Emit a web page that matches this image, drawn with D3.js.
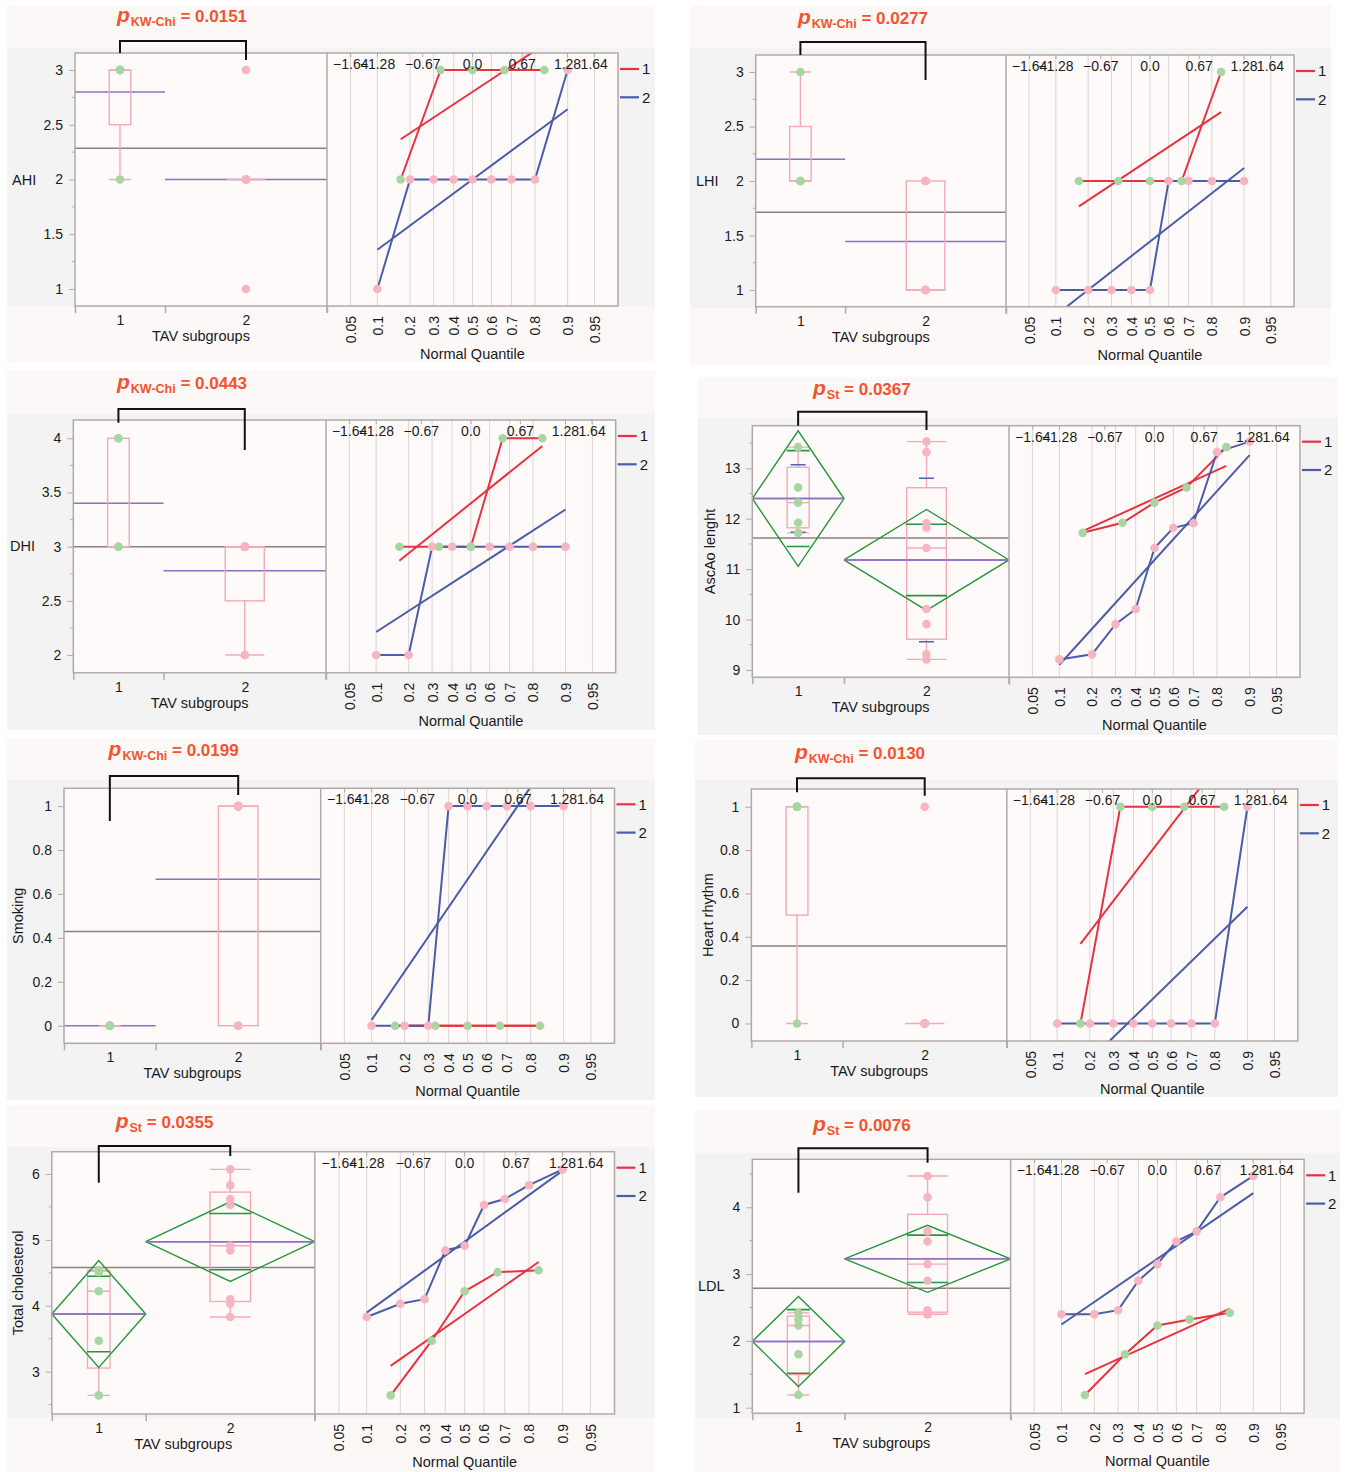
<!DOCTYPE html>
<html><head><meta charset="utf-8">
<script src="https://cdn.jsdelivr.net/npm/d3@7"></script>
<style>
body{margin:0;background:#fff}
svg{display:block}
text{font-family:"Liberation Sans",Arial,Helvetica,sans-serif;fill:#1a1a1a}
</style>
</head><body>
<svg id="chart" width="1354" height="1472"></svg>
<script>
// ---------------- DATA ----------------
const variableNames = ["AHI","LHI","DHI","AscAo lenght","Smoking","Heart rhythm","Total cholesterol","LDL"];
const testLabels = ["KW-Chi","KW-Chi","KW-Chi","St","KW-Chi","KW-Chi","St","St"];
const pValues = ["0.0151","0.0277","0.0443","0.0367","0.0199","0.0130","0.0355","0.0076"];
const categories = ["1","2"];
const legendLabels = ["1","2"];
const group1Values = [
  [2,3,3,3,3],
  [2,2,2,2,3],
  [3,3,3,4,4],
  [11.72,11.92,12.32,12.62,13.42],
  [0,0,0,0,0],
  [0,1,1,1,1],
  [2.64,3.47,4.22,4.51,4.54],
  [1.19,1.80,2.23,2.32,2.42]
];
const group2Values = [
  [1,2,2,2,2,2,2,2,3],
  [1,1,1,1,1,2,2,2,2],
  [2,2,3,3,3,3,3,3,3],
  [9.21,9.31,9.91,10.21,11.42,11.82,11.91,13.32,13.53],
  [0,0,0,1,1,1,1,1,1],
  [0,0,0,0,0,0,0,0,1],
  [3.83,4.03,4.10,4.84,4.91,5.53,5.62,5.83,6.07],
  [2.40,2.40,2.46,2.90,3.15,3.49,3.64,4.15,4.47]
];
const yDomains = [[0.845,3.155],[0.847,3.156],[1.837,4.169],[8.855,13.845],[-0.080,1.081],[-0.081,1.082],[2.358,6.338],[0.916,4.719]];
const yTickValues = [
  [1,1.5,2,2.5,3],[1,1.5,2,2.5,3],[2,2.5,3,3.5,4],[9,10,11,12,13],
  [0,0.2,0.4,0.6,0.8,1],[0,0.2,0.4,0.6,0.8,1],[3,4,5,6],[1,2,3,4]
];
const yMinorSteps = [0.25,0.25,0.25,0.5,null,null,0.5,0.5];
const probabilityTicks = [0.05,0.1,0.2,0.3,0.4,0.5,0.6,0.7,0.8,0.9,0.95];
const zTickValues = [-1.64,-1.28,-0.67,0,0.67,1.28,1.64];
const zTickLabels = ["\u22121.64","\u22121.28","\u22120.67","0.0","0.67","1.28","1.64"];
const quantileDomain = [-1.96,1.96];
const tCritical = 2.179; // df = 12
const showGroupMeans = [true,true,true,true,true,false,true,true];
const showDiamonds = [false,false,false,true,false,false,true,true];
const showSdLines = [false,false,false,true,false,false,false,false];
const yTitleRotated = [false,false,false,true,true,true,true,false];

// ---------------- LAYOUT ----------------
const layouts = [
 {L:75, S:327, R:618, T:53, B:306, bg:[7,5,655,363], band:[48,307], pX:117, pY:22, bracket:[41,53,60], yTitleX:12},
 {L:755.7, S:1006, R:1294, T:55, B:306.7, bg:[690,5,1331,365], band:[48,308], pX:798, pY:24, bracket:[42,55,80], yTitleX:696},
 {L:73.3, S:326, R:615.7, T:420, B:672.7, bg:[7,370,655,730], band:[413,730], pX:117, pY:389, bracket:[409,422.7,450], yTitleX:10},
 {L:752.3, S:1009, R:1300, T:425.7, B:677.3, bg:[698,377,1338,735], band:[418,735], pX:813, pY:395, bracket:[411.7,425.7,430], yTitleX:710},
 {L:64, S:320.7, R:614.5, T:788.3, B:1043.3, bg:[7,738,655,1100], band:[780,1100], pX:108.6, pY:756, bracket:[776,821,795], yTitleX:18},
 {L:751.4, S:1006.8, R:1297.8, T:789, B:1041, bg:[695,740,1338,1097], band:[780,1097], pX:795, pY:759, bracket:[778.3,792.3,795.7], yTitleX:708},
 {L:51.8, S:314.8, R:614.5, T:1151.7, B:1414, bg:[7,1105,655,1472], band:[1147,1418], pX:115.7, pY:1128, bracket:[1146,1182.7,1156], yTitleX:18},
 {L:752.3, S:1010.6, R:1304.1, T:1159.3, B:1413.3, bg:[695,1110,1340,1472], band:[1153,1418], pX:813, pY:1131, bracket:[1148.3,1192.7,1162.7], yTitleX:698}
];

const C = {
  panelBg:"#fdf8f8", grayBand:"#f3f3f4", frameFill:"#fefafa", frame:"#b3a8a8",
  grid:"#ddd4d4", red:"#e8323f", blue:"#4b5ca8", green:"#a8d6a1", pink:"#f7b4c1",
  box:"#f5a8b7", purple:"#8d70c2", overall:"#8a8080", diamond:"#239638", sd:"#4b63b5",
  pText:"#f4532e"
};

// ---------------- HELPERS ----------------
function probit(p){
 const a=[-3.969683028665376e+01,2.209460984245205e+02,-2.759285104469687e+02,1.383577518672690e+02,-3.066479806614716e+01,2.506628277459239e+00];
 const b=[-5.447609879822406e+01,1.615858368580409e+02,-1.556989798598866e+02,6.680131188771972e+01,-1.328068155288572e+01];
 const c=[-7.784894002430293e-03,-3.223964580411365e-01,-2.400758277161838e+00,-2.549732539343734e+00,4.374664141464968e+00,2.938163982698783e+00];
 const d=[7.784695709041462e-03,3.224671290700398e-01,2.445134137142996e+00,3.754408661907416e+00];
 const pl=0.02425, ph=1-pl; let q,r;
 if(p<pl){q=Math.sqrt(-2*Math.log(p));return (((((c[0]*q+c[1])*q+c[2])*q+c[3])*q+c[4])*q+c[5])/((((d[0]*q+d[1])*q+d[2])*q+d[3])*q+1);}
 if(p>ph){q=Math.sqrt(-2*Math.log(1-p));return -(((((c[0]*q+c[1])*q+c[2])*q+c[3])*q+c[4])*q+c[5])/((((d[0]*q+d[1])*q+d[2])*q+d[3])*q+1);}
 q=p-0.5;r=q*q;
 return (((((a[0]*r+a[1])*r+a[2])*r+a[3])*r+a[4])*r+a[5])*q/(((((b[0]*r+b[1])*r+b[2])*r+b[3])*r+b[4])*r+1);
}
function quantileJMP(s,p){
  const n=s.length, pos=p*(n+1);
  if(pos<=1) return s[0];
  if(pos>=n) return s[n-1];
  const lo=Math.floor(pos), f=pos-lo;
  return s[lo-1]+f*(s[lo]-s[lo-1]);
}

const svg = d3.select("#chart");
svg.append("rect").attr("width",1354).attr("height",1472).attr("fill","#fff");
const defs = svg.append("defs");

variableNames.forEach((name,i)=>{
  const lay = layouts[i];
  const groups = [group1Values[i].slice().sort(d3.ascending), group2Values[i].slice().sort(d3.ascending)];
  const n1 = groups[0].length, nTot = n1 + groups[1].length;
  const y = d3.scaleLinear().domain(yDomains[i]).range([lay.B, lay.T]);
  const xBand = d3.scaleLinear().domain([0,nTot]).range([lay.L, lay.S]);
  const bands = [[xBand(0),xBand(n1)],[xBand(n1),xBand(nTot)]];
  const centers = bands.map(b=>(b[0]+b[1])/2);
  const xCat = d3.scaleOrdinal().domain(categories).range(centers);
  const xq = d3.scaleLinear().domain(quantileDomain).range([lay.S, lay.R]);
  const g = svg.append("g");

  // backgrounds
  const [bx0,by0,bx1,by1] = lay.bg;
  g.append("rect").attr("x",bx0).attr("y",by0).attr("width",bx1-bx0).attr("height",by1-by0).attr("fill",C.panelBg);
  g.append("rect").attr("x",bx0).attr("y",lay.band[0]).attr("width",bx1-bx0).attr("height",lay.band[1]-lay.band[0]).attr("fill",C.grayBand);
  g.append("rect").attr("x",lay.L).attr("y",lay.T).attr("width",lay.R-lay.L).attr("height",lay.B-lay.T).attr("fill",C.frameFill);

  // clip paths
  defs.append("clipPath").attr("id","cl"+i).append("rect").attr("x",lay.L).attr("y",lay.T).attr("width",lay.S-lay.L).attr("height",lay.B-lay.T);
  defs.append("clipPath").attr("id","cq"+i).append("rect").attr("x",lay.S).attr("y",lay.T).attr("width",lay.R-lay.S).attr("height",lay.B-lay.T);

  // statistics
  const stats = groups.map(s=>{
    const mean=d3.mean(s), sd=d3.deviation(s)||0;
    const q1=quantileJMP(s,0.25), med=quantileJMP(s,0.5), q3=quantileJMP(s,0.75);
    const iqr=q3-q1;
    const lowW=d3.min(s.filter(v=>v>=q1-1.5*iqr)), highW=d3.max(s.filter(v=>v<=q3+1.5*iqr));
    return {mean,sd,q1,med,q3,lowW,highW,n:s.length,ss:d3.sum(s,v=>(v-mean)*(v-mean))};
  });
  const overallMean = d3.mean(groups[0].concat(groups[1]));
  const pooledSd = Math.sqrt((stats[0].ss+stats[1].ss)/(nTot-2));

  // ---- left plot ----
  const lp = g.append("g").attr("clip-path","url(#cl"+i+")");
  lp.append("line").attr("x1",lay.L).attr("x2",lay.S).attr("y1",y(overallMean)).attr("y2",y(overallMean))
    .attr("stroke",C.overall).attr("stroke-width",1.5);
  if(showGroupMeans[i]){
    stats.forEach((st,k)=>{
      lp.append("line").attr("x1",bands[k][0]).attr("x2",bands[k][1]).attr("y1",y(st.mean)).attr("y2",y(st.mean))
        .attr("stroke",C.purple).attr("stroke-width",1.5);
    });
  }
  // box plots
  stats.forEach((st,k)=>{
    const bw=(bands[k][1]-bands[k][0])*0.24, cx=centers[k], x0=cx-bw/2;
    const bg=lp.append("g").attr("stroke",C.box).attr("stroke-width",1.4).attr("fill","none");
    if(st.lowW<st.q1){
      bg.append("line").attr("x1",cx).attr("x2",cx).attr("y1",y(st.q1)).attr("y2",y(st.lowW));
      bg.append("line").attr("x1",x0).attr("x2",x0+bw).attr("y1",y(st.lowW)).attr("y2",y(st.lowW));
    }
    if(st.highW>st.q3){
      bg.append("line").attr("x1",cx).attr("x2",cx).attr("y1",y(st.q3)).attr("y2",y(st.highW));
      bg.append("line").attr("x1",x0).attr("x2",x0+bw).attr("y1",y(st.highW)).attr("y2",y(st.highW));
    }
    if(st.q3>st.q1){
      bg.append("rect").attr("x",x0).attr("y",y(st.q3)).attr("width",bw).attr("height",y(st.q1)-y(st.q3));
    }
    bg.append("line").attr("x1",x0).attr("x2",x0+bw).attr("y1",y(st.med)).attr("y2",y(st.med));
  });
  // means diamonds
  if(showDiamonds[i]){
    stats.forEach((st,k)=>{
      const half = tCritical*pooledSd/Math.sqrt(st.n);
      const [b0,b1]=bands[k], cx=centers[k];
      lp.append("path").attr("d",d3.line()([[b0,y(st.mean)],[cx,y(st.mean+half)],[b1,y(st.mean)],[cx,y(st.mean-half)],[b0,y(st.mean)]]))
        .attr("fill","none").attr("stroke",C.diamond).attr("stroke-width",1.4);
      const ow=(b1-b0)*0.25;
      [1,-1].forEach(sg=>{
        const v=st.mean+sg*half/Math.SQRT2;
        lp.append("line").attr("x1",cx-ow/2).attr("x2",cx+ow/2).attr("y1",y(v)).attr("y2",y(v))
          .attr("stroke",C.diamond).attr("stroke-width",1.6);
      });
      lp.append("line").attr("x1",b0).attr("x2",b1).attr("y1",y(st.mean)).attr("y2",y(st.mean))
        .attr("stroke",C.purple).attr("stroke-width",1.5);
    });
  }
  if(showSdLines[i]){
    stats.forEach((st,k)=>{
      [1,-1].forEach(sg=>{
        const v=st.mean+sg*st.sd;
        lp.append("line").attr("x1",centers[k]-7.5).attr("x2",centers[k]+7.5).attr("y1",y(v)).attr("y2",y(v))
          .attr("stroke",C.sd).attr("stroke-width",1.5);
      });
    });
  }
  // points
  [1,0].forEach(k=>{
    lp.selectAll(null).data(groups[k]).join("circle")
      .attr("cx",centers[k]).attr("cy",d=>y(d)).attr("r",4.3)
      .attr("fill",k===0?C.green:C.pink);
  });

  // ---- quantile plot ----
  const qp = g.append("g").attr("clip-path","url(#cq"+i+")");
  qp.selectAll(null).data(probabilityTicks).join("line")
    .attr("x1",d=>xq(probit(d))).attr("x2",d=>xq(probit(d))).attr("y1",lay.T).attr("y2",lay.B)
    .attr("stroke",C.grid).attr("stroke-width",1);
  qp.selectAll(null).data(zTickValues).join("line")
    .attr("x1",d=>xq(d)).attr("x2",d=>xq(d)).attr("y1",lay.T).attr("y2",lay.T+4)
    .attr("stroke",C.frame).attr("stroke-width",1);
  const lineColors=[C.red,C.blue];
  [0,1].forEach(k=>{
    const s=groups[k], n=s.length, st=stats[k];
    const pts=s.map((v,j)=>[xq(probit((j+1)/(n+1))), y(v)]);
    qp.append("path").attr("d",d3.line()(pts)).attr("fill","none").attr("stroke",lineColors[k]).attr("stroke-width",2);
    const z0=probit(1/(n+1)), z1=probit(n/(n+1));
    qp.append("line").attr("x1",xq(z0)).attr("x2",xq(z1)).attr("y1",y(st.mean+st.sd*z0)).attr("y2",y(st.mean+st.sd*z1))
      .attr("stroke",lineColors[k]).attr("stroke-width",2);
  });
  [1,0].forEach(k=>{
    const s=groups[k], n=s.length;
    qp.selectAll(null).data(s).join("circle")
      .attr("cx",(d,j)=>xq(probit((j+1)/(n+1)))).attr("cy",d=>y(d)).attr("r",4.3)
      .attr("fill",k===0?C.green:C.pink);
  });
  g.selectAll(null).data(zTickValues).join("text")
    .attr("x",d=>xq(d)).attr("y",lay.T+16).attr("text-anchor","middle").attr("font-size",14)
    .text((d,j)=>zTickLabels[j]);

  // frame
  g.append("rect").attr("x",lay.L).attr("y",lay.T).attr("width",lay.R-lay.L).attr("height",lay.B-lay.T)
    .attr("fill","none").attr("stroke",C.frame).attr("stroke-width",1.5);
  g.append("line").attr("x1",lay.S).attr("x2",lay.S).attr("y1",lay.T).attr("y2",lay.B+7)
    .attr("stroke",C.frame).attr("stroke-width",1.5);

  // y axis
  const ya = g.append("g").attr("transform",`translate(${lay.L},0)`)
    .call(d3.axisLeft(y).tickValues(yTickValues[i]).tickSize(6).tickPadding(6).tickFormat(d=>String(d)));
  ya.select(".domain").remove();
  ya.selectAll("line").attr("stroke",C.frame);
  ya.selectAll("text").attr("font-size",14).attr("fill","#1a1a1a").attr("font-family",null);
  if(yMinorSteps[i]){
    const st=yMinorSteps[i], dom=yDomains[i];
    const minors=d3.range(Math.ceil(dom[0]/st)*st, dom[1], st).filter(v=>!yTickValues[i].some(t=>Math.abs(t-v)<1e-9));
    g.selectAll(null).data(minors).join("line")
      .attr("x1",lay.L-3).attr("x2",lay.L).attr("y1",d=>y(d)).attr("y2",d=>y(d))
      .attr("stroke",C.frame).attr("stroke-width",1);
  }
  // x axis (left) band ticks + category labels
  const xb = g.append("g").attr("transform",`translate(0,${lay.B})`)
    .call(d3.axisBottom(xBand).tickValues([0,n1,nTot]).tickSize(7).tickFormat(""));
  xb.select(".domain").remove();
  xb.selectAll("line").attr("stroke",C.frame).attr("stroke-width",1.5);
  const xc = g.append("g").attr("transform",`translate(0,${lay.B})`)
    .call(d3.axisBottom(xCat).tickSize(0).tickPadding(9));
  xc.select(".domain").remove();
  xc.selectAll("text").attr("font-size",14).attr("fill","#1a1a1a").attr("font-family",null);
  g.append("text").attr("x",(lay.L+lay.S)/2).attr("y",lay.B+35).attr("text-anchor","middle").attr("font-size",14.5).text("TAV subgroups");

  // quantile bottom axis
  const qa = g.append("g").attr("transform",`translate(0,${lay.B})`)
    .call(d3.axisBottom(xq).tickValues(probabilityTicks.map(probit)).tickSize(0).tickFormat((d,j)=>String(probabilityTicks[j])));
  qa.select(".domain").remove();
  qa.selectAll("text").attr("font-size",14).attr("fill","#1a1a1a").attr("font-family",null)
    .attr("transform","rotate(-90)").attr("text-anchor","end").attr("x",-10).attr("y",0).attr("dy","0.35em");
  g.append("text").attr("x",(lay.S+lay.R)/2).attr("y",lay.B+53).attr("text-anchor","middle").attr("font-size",14.5).text("Normal Quantile");

  // y title
  const yMid=(lay.T+lay.B)/2;
  if(yTitleRotated[i]){
    g.append("text").attr("transform",`translate(${lay.yTitleX},${yMid}) rotate(-90)`).attr("text-anchor","middle")
      .attr("dy","0.35em").attr("font-size",14.5).text(name);
  } else {
    g.append("text").attr("x",lay.yTitleX).attr("y",yMid).attr("dy","0.35em").attr("font-size",14.5).text(name);
  }

  // legend
  legendLabels.forEach((lab,k)=>{
    const ly=lay.T+16+k*28.3;
    g.append("line").attr("x1",lay.R+2).attr("x2",lay.R+21).attr("y1",ly).attr("y2",ly).attr("stroke",lineColors[k]).attr("stroke-width",2.2);
    g.append("text").attr("x",lay.R+24).attr("y",ly).attr("dy","0.36em").attr("font-size",15).text(lab);
  });

  // bracket
  const [bt,bl,brr]=lay.bracket;
  g.append("path").attr("d",d3.line()([[centers[0],bl],[centers[0],bt],[centers[1],bt],[centers[1],brr]]))
    .attr("fill","none").attr("stroke","#111").attr("stroke-width",2);

  // p label
  const pt = g.append("text").attr("x",lay.pX).attr("y",lay.pY).attr("font-weight","bold");
  pt.append("tspan").attr("font-style","italic").attr("font-size",21).style("fill",C.pText).text("p");
  pt.append("tspan").attr("font-size",12.5).attr("dy",4).attr("dx",1).style("fill",C.pText).text(testLabels[i]);
  pt.append("tspan").attr("font-size",17).attr("dy",-4).style("fill",C.pText).text(" = "+pValues[i]);
});
</script>
</body></html>
